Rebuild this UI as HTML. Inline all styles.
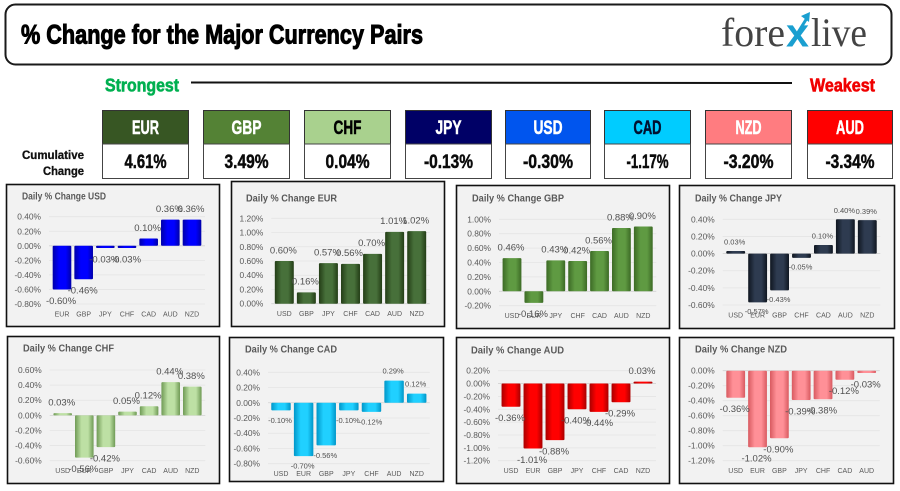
<!DOCTYPE html>
<html lang="en">
<head>
<meta charset="utf-8">
<title>% Change for the Major Currency Pairs</title>
<style>
html,body{margin:0;padding:0;background:#fff;width:900px;height:491px;overflow:hidden}
svg{display:block;font-family:"Liberation Sans",sans-serif;filter:blur(0.3px)}
</style>
</head>
<body>
<svg id="root" xmlns="http://www.w3.org/2000/svg" width="900" height="491" viewBox="0 0 900 491">
  <defs id="defs"></defs>
  <rect width="900" height="491" fill="#fff"/>
  <rect x="5.5" y="4.5" width="886" height="60" rx="10" fill="#fff" stroke="#1a1a1a" stroke-width="2"/>
  <text x="21" y="43.5" font-size="27" font-weight="700" fill="#000" stroke="#000" stroke-width="1" textLength="402" lengthAdjust="spacingAndGlyphs">% Change for the Major Currency Pairs</text>
  <g>
    <text x="721" y="46" font-family="'Liberation Serif',serif" font-size="40" fill="#444" textLength="64" lengthAdjust="spacingAndGlyphs">fore</text>
    <text x="786" y="46.5" font-size="40" font-weight="700" fill="#1a9fd0" textLength="23" lengthAdjust="spacingAndGlyphs">x</text>
    <path d="M797 34 L807 18" stroke="#1a9fd0" stroke-width="3" fill="none"/>
    <path d="M801 16 L810 12 L809 22 Z" fill="#1a9fd0"/>
    <text x="811" y="46" font-family="'Liberation Serif',serif" font-size="40" fill="#444" textLength="56" lengthAdjust="spacingAndGlyphs">live</text>
  </g>
  <text x="105" y="91.5" font-size="18" font-weight="700" fill="#00b050" stroke="#00b050" stroke-width="0.6" textLength="74" lengthAdjust="spacingAndGlyphs">Strongest</text>
  <line x1="191" y1="82.5" x2="792" y2="83" stroke="#111" stroke-width="2"/>
  <text x="810" y="91.5" font-size="18" font-weight="700" fill="#f00000" stroke="#f00000" stroke-width="0.6" textLength="65" lengthAdjust="spacingAndGlyphs">Weakest</text>
  <text x="84" y="159" font-size="11.5" font-weight="700" fill="#111" stroke="#111" stroke-width="0.3" text-anchor="end" textLength="62" lengthAdjust="spacingAndGlyphs">Cumulative</text>
  <text x="84" y="175" font-size="11.5" font-weight="700" fill="#111" stroke="#111" stroke-width="0.3" text-anchor="end" textLength="41" lengthAdjust="spacingAndGlyphs">Change</text>
  <g id="tiles"></g>
  <g id="charts"></g>
</svg>
<script>
const NS = 'http://www.w3.org/2000/svg';

// Cumulative table data
const tileCurrencies = ['EUR','GBP','CHF','JPY','USD','CAD','NZD','AUD'];
const tileChanges = [4.61, 3.49, 0.04, -0.13, -0.30, -1.17, -3.20, -3.34];

// Chart data
const usdCategories = ['EUR','GBP','JPY','CHF','CAD','AUD','NZD'];
const usdValues = [-0.60,-0.46,-0.03,-0.03,0.10,0.36,0.36];
const usdTicks = [0.40,0.20,0.00,-0.20,-0.40,-0.60,-0.80];

const eurCategories = ['USD','GBP','JPY','CHF','CAD','AUD','NZD'];
const eurValues = [0.60,0.16,0.57,0.56,0.70,1.01,1.02];
const eurTicks = [1.20,1.00,0.80,0.60,0.40,0.20,0.00];

const gbpCategories = ['USD','EUR','JPY','CHF','CAD','AUD','NZD'];
const gbpValues = [0.46,-0.16,0.43,0.42,0.56,0.88,0.90];
const gbpTicks = [1.00,0.80,0.60,0.40,0.20,0.00,-0.20];

const jpyCategories = ['USD','EUR','GBP','CHF','CAD','AUD','NZD'];
const jpyValues = [0.03,-0.57,-0.43,-0.05,0.10,0.40,0.39];
const jpyTicks = [0.40,0.20,0.00,-0.20,-0.40,-0.60];

const chfCategories = ['USD','EUR','GBP','JPY','CAD','AUD','NZD'];
const chfValues = [0.03,-0.56,-0.42,0.05,0.12,0.44,0.38];
const chfTicks = [0.60,0.40,0.20,0.00,-0.20,-0.40,-0.60];

const cadCategories = ['USD','EUR','GBP','JPY','CHF','AUD','NZD'];
const cadValues = [-0.10,-0.70,-0.56,-0.10,-0.12,0.29,0.12];
const cadTicks = [0.40,0.20,0.00,-0.20,-0.40,-0.60,-0.80];

const audCategories = ['USD','EUR','GBP','JPY','CHF','CAD','NZD'];
const audValues = [-0.36,-1.01,-0.88,-0.40,-0.44,-0.29,0.03];
const audTicks = [0.20,0.00,-0.20,-0.40,-0.60,-0.80,-1.00,-1.20];

const nzdCategories = ['USD','EUR','GBP','JPY','CHF','CAD','AUD'];
const nzdValues = [-0.36,-1.02,-0.90,-0.39,-0.38,-0.12,-0.03];
const nzdTicks = [0.00,-0.20,-0.40,-0.60,-0.80,-1.00,-1.20];

// Layout and style (not data)
const tileStyle = {
  EUR:{x:102,w:86,lw:27,vw:42,bg:'#375623',fg:'#fff'}, GBP:{x:203,w:86,lw:30,vw:44,bg:'#548235',fg:'#fff'},
  CHF:{x:304,w:86,lw:28,vw:44,bg:'#a9d18e',fg:'#000'}, JPY:{x:405,w:86,lw:26,vw:49,bg:'#000066',fg:'#fff'},
  USD:{x:505,w:85,lw:29,vw:50,bg:'#0055ee',fg:'#fff'}, CAD:{x:604,w:86,lw:28,vw:42,bg:'#00ccff',fg:'#001030'},
  NZD:{x:705,w:86,lw:26,vw:50,bg:'#ff7c80',fg:'#fff'}, AUD:{x:807,w:85,lw:28,vw:49,bg:'#ff0000',fg:'#fff'}
};

const chartLayouts = [
 {key:'usd',title:'Daily % Change USD',cats:usdCategories,vals:usdValues,ticks:usdTicks,box:[6,184,219,326],top:216.7,bot:304,c0:62,cN:192,tx:22,ty:196,tw:84,lf:9.5,off:11,edge:'#0000a8',mid:'#0000ff'},
 {key:'eur',title:'Daily % Change EUR',cats:eurCategories,vals:eurValues,ticks:eurTicks,box:[231,181,444,326],top:218.3,bot:303.7,c0:284.3,cN:416.7,tx:246,ty:198,tw:91,lf:9.5,off:11,edge:'#233d16',mid:'#47703a'},
 {key:'gbp',title:'Daily % Change GBP',cats:gbpCategories,vals:gbpValues,ticks:gbpTicks,box:[456,185,669,328],top:219.3,bot:305.7,c0:512,cN:643.3,tx:472,ty:198,tw:92,lf:9.5,off:11,edge:'#3c6a25',mid:'#5f9a42'},
 {key:'jpy',title:'Daily % Change JPY',cats:jpyCategories,vals:jpyValues,ticks:jpyTicks,box:[679,185,894,328],top:219.3,bot:305,c0:735.7,cN:867.3,tx:695,ty:198,tw:87,lf:7.5,off:9,edge:'#0f1620',mid:'#2e3b50'},
 {key:'chf',title:'Daily % Change CHF',cats:chfCategories,vals:chfValues,ticks:chfTicks,box:[7,336,219,483],top:370,bot:460.7,c0:62.7,cN:192.3,tx:23,ty:348,tw:91,lf:9.5,off:11,edge:'#6f9a55',mid:'#bde0a4'},
 {key:'cad',title:'Daily % Change CAD',cats:cadCategories,vals:cadValues,ticks:cadTicks,box:[229,337,443,481],top:372.3,bot:463.7,c0:281,cN:416.7,tx:245,ty:349,tw:92,lf:7.5,off:10,edge:'#0096c8',mid:'#20d0ff'},
 {key:'aud',title:'Daily % Change AUD',cats:audCategories,vals:audValues,ticks:audTicks,box:[456,337,669,483],top:370.7,bot:460.7,c0:511,cN:643,tx:471,ty:350,tw:93,lf:9.5,off:11,edge:'#a80000',mid:'#ff0000'},
 {key:'nzd',title:'Daily % Change NZD',cats:nzdCategories,vals:nzdValues,ticks:nzdTicks,box:[679,337,893,483],top:370.7,bot:460.7,c0:735.7,cN:866.7,tx:695,ty:349,tw:92,lf:9.5,off:11,edge:'#d85a60',mid:'#ff9097'}
];

function mk(parent, tag, attrs, text) {
  const el = document.createElementNS(NS, tag);
  for (const k in attrs) el.setAttribute(k, attrs[k]);
  if (text !== undefined) el.textContent = text;
  parent.appendChild(el);
  return el;
}

function pct(v) { return v.toFixed(2) + '%'; }

const tilesG = document.getElementById('tiles');
tileCurrencies.forEach((cur, i) => {
  const s = tileStyle[cur];
  const head = mk(tilesG, 'rect', {x:s.x+0.5, y:110.5, width:s.w, height:33.5, fill:s.bg, stroke:'#333', 'stroke-width':1});
  
  
  const body = mk(tilesG, 'rect', {x:s.x+0.5, y:144, width:s.w, height:34.5, fill:'#fff', stroke:'#444', 'stroke-width':1});
  
  
  const cx = s.x + s.w/2 + 0.5;
  const label = mk(tilesG, 'text', {x:cx, y:134, 'font-size':19.5, 'font-weight':700, fill:s.fg, stroke:s.fg, 'stroke-width':0.5, 'text-anchor':'middle', textLength:s.lw, lengthAdjust:'spacingAndGlyphs'}, cur);
  
  
  const str = pct(tileChanges[i]);
  const val = mk(tilesG, 'text', {x:cx, y:168, 'font-size':19.5, 'font-weight':700, fill:'#0a0a0a', stroke:'#0a0a0a', 'stroke-width':0.5, 'text-anchor':'middle', textLength:s.vw, lengthAdjust:'spacingAndGlyphs'}, str);
  
  
});

const defs = document.getElementById('defs');
const chartsG = document.getElementById('charts');

function drawChart(c) {
  const g = mk(chartsG, 'g', {});
  
  

  const grad = mk(defs, 'linearGradient', {id:'grad-' + c.key, x1:0, y1:0, x2:1, y2:0});
  mk(grad, 'stop', {offset:'0%', 'stop-color':c.edge});
  mk(grad, 'stop', {offset:'35%', 'stop-color':c.mid});
  mk(grad, 'stop', {offset:'70%', 'stop-color':c.mid});
  mk(grad, 'stop', {offset:'100%', 'stop-color':c.edge});

  const [x1, y1, x2, y2] = c.box;
  const panel = mk(g, 'rect', {x:x1+0.5, y:y1+0.5, width:x2-x1, height:y2-y1, fill:'#f2f2f2', stroke:'#111', 'stroke-width':1.6});
  
  

  const title = mk(g, 'text', {x:c.tx, y:c.ty+3.5, 'font-size':10, 'font-weight':700, fill:'#595959', textLength:c.tw, lengthAdjust:'spacingAndGlyphs'}, c.title);
  
  

  const maxTick = Math.max(...c.ticks);
  const minTick = Math.min(...c.ticks);
  const y = v => c.top + (maxTick - v) / (maxTick - minTick) * (c.bot - c.top);
  const step = (c.cN - c.c0) / (c.cats.length - 1);
  const x = i => c.c0 + i * step;
  const barW = step * 0.86;
  const gridL = c.c0 - 13;
  const gridR = c.cN + 13;

  c.ticks.forEach(t => {
    const line = mk(g, 'line', {x1:gridL, x2:gridR, y1:y(t), y2:y(t), stroke:Math.abs(t) < 0.001 ? '#d2d2d2' : '#e4e4e4', 'stroke-width':0.8});
    
    
    const tick = mk(g, 'text', {x:c.c0 - 21, y:y(t) + 3, 'font-size':8.4, fill:'#595959', 'text-anchor':'end'}, pct(t));
    
    
  });

  c.cats.forEach((cat, i) => {
    const catLabel = mk(g, 'text', {x:x(i), y:c.bot + 12.5, 'font-size':7, fill:'#595959', 'text-anchor':'middle'}, cat);
    
    
  });

  c.vals.forEach((v, i) => {
    const yTop = Math.min(y(v), y(0));
    const h = Math.max(Math.abs(y(v) - y(0)), 1);
    const bar = mk(g, 'rect', {x:x(i) - barW/2, y:yTop, width:barW, height:h, rx:1, fill:'url(#grad-' + c.key + ')'});
    
    
  });

  c.vals.forEach((v, i) => {
    const ly = (v >= 0 ? y(v) - c.off : y(v) + c.off) + c.lf * 0.35;
    const lab = mk(g, 'text', {x:x(i) - 1, y:ly, 'font-size':c.lf, fill:'#505050', 'text-anchor':'middle'}, pct(v));
    
    
  });
}

chartLayouts.forEach(drawChart);
</script>
</body>
</html>
